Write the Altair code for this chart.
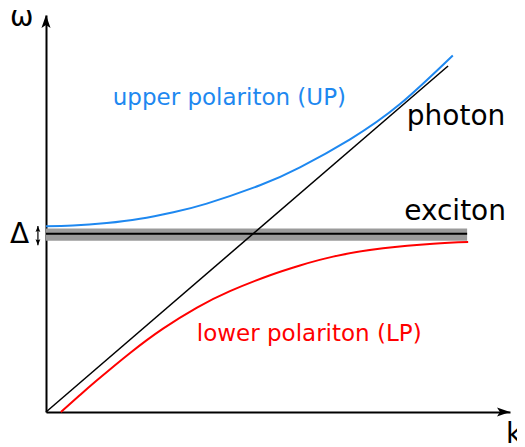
import altair as alt
import pandas as pd

# Reduced units: k in units of the photon/exciton crossing, omega in units of the exciton energy
K_MAX = 2.24
W_MAX = 2.227

up_k = [0, 0.13, 0.293, 0.454, 0.615, 0.776, 1.033, 1.226, 1.468, 1.709, 1.964]
up_w = [1.042, 1.0455, 1.0596, 1.0838, 1.1208, 1.1691, 1.2719, 1.3723, 1.5296, 1.7272, 2.0]

lp_k = [0.072, 0.164, 0.246, 0.406, 0.565, 0.729, 0.888, 1.082, 1.226, 1.386, 1.627, 1.869, 2.038]
lp_w = [0.0, 0.0948, 0.1776, 0.3312, 0.4679, 0.586, 0.6782, 0.7674, 0.8221, 0.8717, 0.918, 0.944, 0.953]

photon_k = [0.0, 1.941]
photon_w = [0.0, 1.941]

exciton_k = [0.0, 2.033]
exciton_w = 1.0
exciton_lo = 0.961
exciton_hi = 1.030

delta_k = -0.039
delta_w = [0.936, 1.043]

labels = ["upper polariton (UP)", "lower polariton (LP)", "photon", "exciton", "ω", "Δ", "k"]
label_k = [0.322, 0.728, 1.742, 1.729, -0.174, -0.174, 2.221]
label_w = [1.722, 0.397, 1.610, 1.077, 2.165, 0.948, -0.174]
label_color = ["#1e88f0", "#ff0000", "black", "black", "black", "black", "black"]
label_size = [23, 23, 28, 28, 28, 28, 28]

BLUE = "#1e88f0"
RED = "#ff0000"

xs = alt.Scale(domain=[0, K_MAX], nice=False, zero=False)
ys = alt.Scale(domain=[0, W_MAX], nice=False, zero=False)
ax = alt.Axis(title=None, labels=False, ticks=False, grid=False,
              domainColor="black", domainWidth=2)


def X(f="k"):
    return alt.X(f + ":Q", scale=xs, axis=ax)


def Y(f="w"):
    return alt.Y(f + ":Q", scale=ys, axis=ax)


band = alt.Chart(pd.DataFrame({"k": [exciton_k[0]], "k2": [exciton_k[1]],
                               "w": [exciton_lo], "w2": [exciton_hi]})).mark_rect(
    color="#9b9b9b").encode(x=X(), x2="k2:Q", y=Y(), y2="w2:Q")

exc = alt.Chart(pd.DataFrame({"k": [exciton_k[0]], "k2": [exciton_k[1]],
                              "w": [exciton_w]})).mark_rule(
    color="black", strokeWidth=2).encode(x=X(), x2="k2:Q", y=Y())

photon = alt.Chart(pd.DataFrame({"k": photon_k, "w": photon_w})).mark_line(
    color="black", strokeWidth=1.5).encode(x=X(), y=Y())

up = alt.Chart(pd.DataFrame({"k": up_k, "w": up_w})).mark_line(
    color=BLUE, strokeWidth=2, interpolate="natural").encode(x=X(), y=Y())

lp = alt.Chart(pd.DataFrame({"k": lp_k, "w": lp_w})).mark_line(
    color=RED, strokeWidth=2, interpolate="natural").encode(x=X(), y=Y())

ARROW = "M0,0 L0.7,2 L0,1.55 L-0.7,2 Z"
SMALL = "M0,0 L0.8,2 L0,1.6 L-0.8,2 Z"

arrows = alt.Chart(pd.DataFrame({"k": [0.0, K_MAX], "w": [W_MAX, 0.0],
                                 "a": [0, 90]})).mark_point(
    shape=ARROW, filled=True, size=169, color="black", opacity=1,
    strokeWidth=0).encode(x=X(), y=Y(), angle=alt.Angle("a:Q", scale=None))

drule = alt.Chart(pd.DataFrame({"k": [delta_k], "w": [delta_w[0]],
                                "w2": [delta_w[1]]})).mark_rule(
    color="black", strokeWidth=1.2).encode(x=X(), y=Y(), y2="w2:Q")

dheads = alt.Chart(pd.DataFrame({"k": [delta_k, delta_k], "w": [delta_w[1], delta_w[0]],
                                 "a": [0, 180]})).mark_point(
    shape=SMALL, filled=True, size=36, color="black", opacity=1,
    strokeWidth=0).encode(x=X(), y=Y(), angle=alt.Angle("a:Q", scale=None))

texts = []
for t, k, w, c, s in zip(labels, label_k, label_w, label_color, label_size):
    texts.append(
        alt.Chart(pd.DataFrame({"k": [k], "w": [w], "t": [t]})).mark_text(
            align="left", baseline="alphabetic", font="DejaVu Sans",
            fontSize=s, color=c).encode(x=X(), y=Y(), text="t:N")
    )

chart = alt.layer(band, exc, photon, up, lp, arrows, drule, dheads, *texts).properties(
    width=464, height=397,
    autosize=alt.AutoSizeParams(type="none"),
    padding={"left": 38, "top": 7, "right": 7, "bottom": 36},
).configure_view(strokeWidth=0)

chart.save("out.html", embed_options={"renderer": "svg", "actions": False})
